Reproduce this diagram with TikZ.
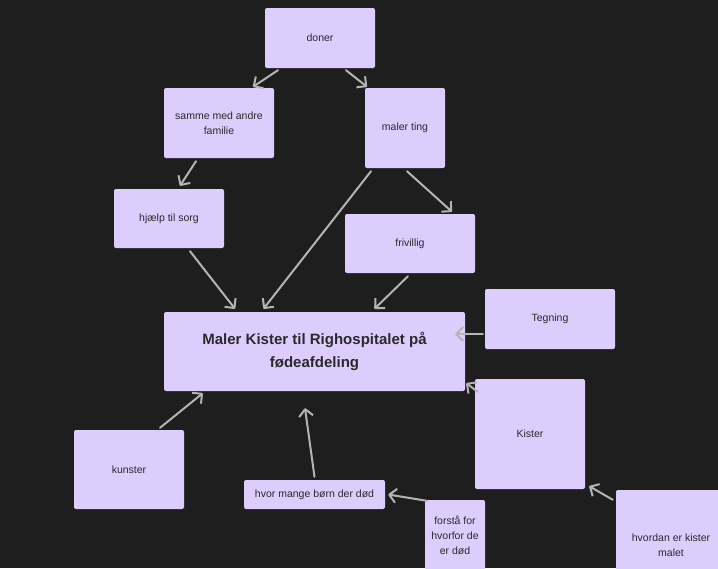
\documentclass[tikz,border=0pt]{standalone}
\usepackage{fontspec}
\setmainfont{Liberation Sans}
\usetikzlibrary{arrows.meta}
\definecolor{boardbg}{HTML}{1E1E1E}
\definecolor{notefill}{HTML}{DCCDFD}
\definecolor{linkgray}{HTML}{B4B4B4}
\definecolor{notetext}{HTML}{2A2A2A}
\tikzset{
  note/.style={fill=notefill, rounded corners=2pt, inner sep=0pt, text=notetext,
    font=\fontsize{10.5}{15}\selectfont, align=center},
  link/.style={draw=linkgray, line width=2pt, line cap=round,
    -{Straight Barb[length=7pt,width=14pt,line join=round]}}
}
\begin{document}
\begin{tikzpicture}[x=1pt,y=-1pt]
  \useasboundingbox (0,0) rectangle (718,568);
  \clip (0,0) rectangle (718,568);
  \fill[boardbg] (0,0) rectangle (718,568);
  % notes
  \node[note, minimum width=110pt, minimum height=60pt] (doner) at (320,38) {doner};
  \node[note, minimum width=110pt, minimum height=70pt] (samme) at (219,123) {samme med andre\\familie};
  \node[note, minimum width=80pt, minimum height=80pt] (maler) at (405,128) {maler ting};
  \node[note, minimum width=110pt, minimum height=59pt] (hjaelp) at (169,218.5) {hjælp til sorg};
  \node[note, minimum width=130pt, minimum height=59pt] (frivillig) at (410,243.5) {frivillig};
  \node[note, minimum width=301pt, minimum height=79pt, font=\bfseries\fontsize{15}{23}\selectfont]
    (kistemaling) at (314.5,351.5) {Maler Kister til Righospitalet på\\fødeafdeling};
  \node[note, minimum width=130pt, minimum height=60pt] (tegning) at (550,319) {Tegning};
  \node[note, minimum width=110pt, minimum height=110pt] (kister) at (530,434) {Kister};
  \node[note, minimum width=110pt, minimum height=79pt] (kunster) at (129,469.5) {kunster};
  \node[note, minimum width=141pt, minimum height=29pt] (boern) at (314.5,494.5) {hvor mange børn der død};
  \node[note, minimum width=60pt, minimum height=70pt] (forstaa) at (455,535) {forstå for\\hvorfor de\\er død};
  \node[note, minimum width=110pt, minimum height=110pt] (hvordan) at (671,545) {hvordan er kister\\malet};
  % links
  \draw[link] ([xshift=-42pt,yshift=-2pt]doner.south) -- ([xshift=34pt,yshift=1pt]samme.north);
  \draw[link] ([xshift=26pt,yshift=-2pt]doner.south) -- ([xshift=-38pt,yshift=1pt]maler.north);
  \draw[link] ([xshift=-23pt,yshift=-3pt]samme.south) -- ([xshift=11pt,yshift=3pt]hjaelp.north);
  \draw[link] ([xshift=2pt,yshift=-3pt]maler.south) -- ([xshift=42pt,yshift=2pt]frivillig.north);
  \draw[link] ([xshift=-34pt,yshift=-3pt]maler.south) -- ([xshift=-51pt,yshift=3pt]kistemaling.north);
  \draw[link] ([xshift=21pt,yshift=-3pt]hjaelp.south) -- ([xshift=-79.5pt,yshift=3pt]kistemaling.north);
  \draw[link] ([xshift=-2pt,yshift=-3pt]frivillig.south) -- ([xshift=60pt,yshift=3pt]kistemaling.north);
  \draw[link] ([xshift=-2pt,yshift=-15pt]tegning.west) -- ([xshift=-10pt,yshift=17.5pt]kistemaling.east);
  \draw[link] ([xshift=3pt,yshift=-13pt]kister.north west) -- ([xshift=1pt,yshift=8pt]kistemaling.south east);
  \draw[link] ([xshift=31pt,yshift=2pt]kunster.north) -- ([xshift=39pt,yshift=-2pt]kistemaling.south west);
  \draw[link] ([yshift=3pt]boern.north) -- ([xshift=-9.5pt,yshift=-17pt]kistemaling.south);
  \draw[link] ([xshift=2pt,yshift=-1pt]forstaa.north west) -- ([xshift=3pt]boern.east);
  \draw[link] ([xshift=-3pt,yshift=-10pt]hvordan.north west) -- ([xshift=4pt,yshift=3pt]kister.south east);
\end{tikzpicture}
\end{document}
